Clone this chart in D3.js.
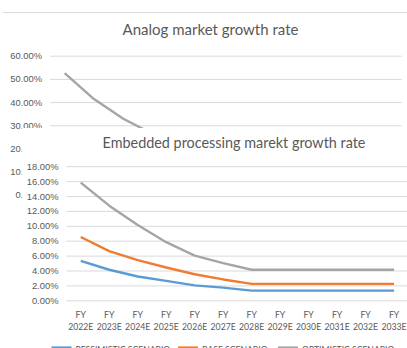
<!DOCTYPE html>
<html>
<head>
<meta charset="utf-8">
<script src="https://cdn.jsdelivr.net/npm/d3@7.9.0/dist/d3.min.js"></script>
<style>
  html, body { margin: 0; padding: 0; background: #fff; }
  svg { display: block; font-family: Lato, "Open Sans", sans-serif; }
  .grid line { stroke: #d9d9d9; stroke-width: 1; }
  .grid path { display: none; }
  .grid text { fill: #595959; font-size: 9.4px; }
  .xlab { fill: #595959; font-size: 8.7px; }
  .title { fill: #595959; }
  .legend text { fill: #595959; font-size: 8.6px; }
</style>
</head>
<body>
<div id="chart"></div>
<script>
const years = ['2022E', '2023E', '2024E', '2025E', '2026E', '2027E',
               '2028E', '2029E', '2030E', '2031E', '2032E', '2033E'];

// analog chart: only the optimistic line shows above the front chart
const analogOptimistic = [52.5, 41.3, 32.8, 26.3, 21.5, 18.0, 15.0, 15.0, 15.0, 15.0, 15.0, 15.0];
const analogTicks = [0, 10, 20, 30, 40, 50, 60];

const embPessimistic = [5.3, 4.1, 3.2, 2.6, 2.0, 1.7, 1.3, 1.3, 1.3, 1.3, 1.3, 1.3];
const embBase        = [8.5, 6.6, 5.4, 4.4, 3.5, 2.8, 2.2, 2.2, 2.2, 2.2, 2.2, 2.2];
const embOptimistic  = [15.8, 12.7, 10.1, 7.8, 6.0, 5.0, 4.1, 4.1, 4.1, 4.1, 4.1, 4.1];
const embTicks = [0, 2, 4, 6, 8, 10, 12, 14, 16, 18];

const seriesNames = ['PESSIMISTIC SCENARIO', 'BASE SCENARIO', 'OPTIMISTIC SCENARIO'];
const colors = ['#5b9bd5', '#ed7d31', '#a5a5a5'];

const W = 407, H = 348;
const svg = d3.select('#chart').append('svg')
  .attr('width', W).attr('height', H);

function drawChart(g, cfg) {
  const x = d3.scaleBand().domain(years).range([cfg.left, cfg.right]);
  const y = d3.scaleLinear().domain([0, d3.max(cfg.ticks)]).range([cfg.bottom, cfg.top]);

  g.append('g')
    .attr('class', 'grid')
    .attr('transform', `translate(${cfg.left},0)`)
    .call(d3.axisLeft(y).tickValues(cfg.ticks)
      .tickSize(-(cfg.right - cfg.left)).tickPadding(8)
      .tickFormat(d => d.toFixed(2) + '%'));

  const line = d3.line()
    .x((d, i) => x(years[i]) + x.bandwidth() / 2)
    .y(d => y(d));

  cfg.series.forEach(s => {
    g.append('path')
      .datum(s.values)
      .attr('fill', 'none')
      .attr('stroke', s.color)
      .attr('stroke-width', 2.4)
      .attr('stroke-linejoin', 'round')
      .attr('d', line);
  });

  g.append('text')
    .attr('class', 'title')
    .attr('x', cfg.titleX).attr('y', cfg.titleY)
    .attr('text-anchor', 'middle')
    .style('font-size', cfg.titleSize + 'px')
    .text(cfg.title);

  return x;
}

// background chart
svg.append('line')
  .attr('x1', 3).attr('x2', W).attr('y1', 12.5).attr('y2', 12.5)
  .attr('stroke', '#d9d9d9');

drawChart(svg.append('g'), {
  left: 50, right: 401.7, top: 55.7, bottom: 194.9,
  ticks: analogTicks,
  title: 'Analog market growth rate', titleX: 210.5, titleY: 35, titleSize: 15,
  series: [{ values: analogOptimistic, color: colors[2] }]
});

// front chart
const front = svg.append('g');
front.append('rect')
  .attr('x', 22).attr('y', 128).attr('width', W - 22).attr('height', H - 128)
  .attr('fill', '#fff');

const xE = drawChart(front, {
  left: 66.5, right: 408.3, top: 166.2, bottom: 300.3,
  ticks: embTicks,
  title: 'Embedded processing marekt growth rate', titleX: 234, titleY: 148, titleSize: 14.4,
  series: [
    { values: embPessimistic, color: colors[0] },
    { values: embBase, color: colors[1] },
    { values: embOptimistic, color: colors[2] }
  ]
});

const xl = front.append('g');
years.forEach(yr => {
  const cx = xE(yr) + xE.bandwidth() / 2;
  xl.append('text').attr('class', 'xlab')
    .attr('x', cx).attr('y', 318).attr('text-anchor', 'middle').text('FY');
  xl.append('text').attr('class', 'xlab')
    .attr('x', cx).attr('y', 329.5).attr('text-anchor', 'middle').text(yr);
});

const legendX = [51.5, 178, 278];
const legend = front.append('g').attr('class', 'legend');
seriesNames.forEach((name, i) => {
  legend.append('line')
    .attr('x1', legendX[i]).attr('x2', legendX[i] + 20)
    .attr('y1', 347.5).attr('y2', 347.5)
    .attr('stroke', colors[i]).attr('stroke-width', 2.2);
  legend.append('text')
    .attr('x', legendX[i] + 24).attr('y', 352.5)
    .text(name);
});
</script>
</body>
</html>
